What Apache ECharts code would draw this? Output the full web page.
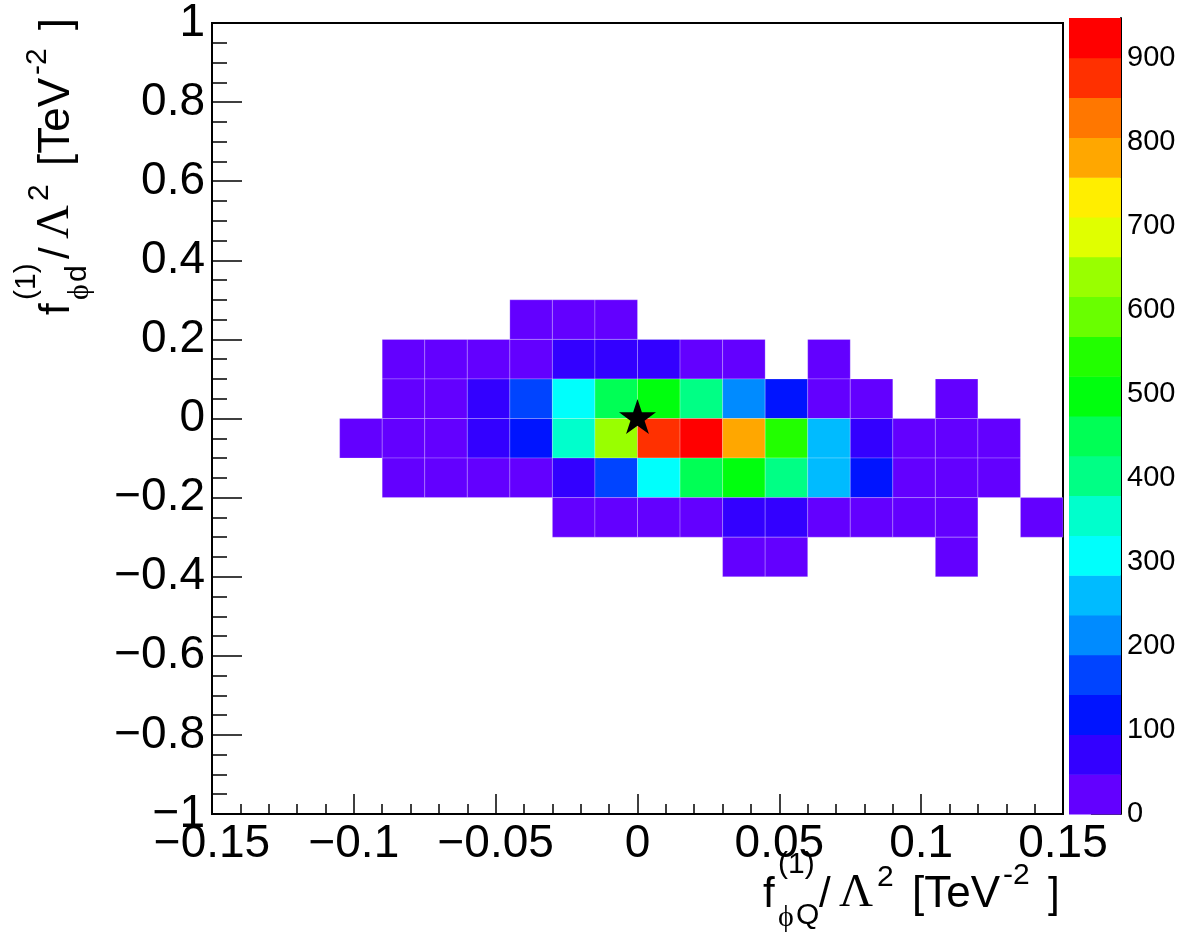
<!DOCTYPE html>
<html>
<head><meta charset="utf-8"></head>
<script type="text/javascript" src="https://cdn.jsdelivr.net/npm/echarts@6/dist/echarts.min.js"></script>
<body style="margin:0;background-color:#fff;">
    <div id="main" style="width:1182px;height:936px;"></div>
</body>

<script type="text/javascript">
// bin centres (x bins 0.015 wide, y bins 0.1 wide)
var xCentres = [-0.0975,-0.0825,-0.0675,-0.0525,-0.0375,-0.0225,-0.0075,0.0075,0.0225,0.0375,0.0525,0.0675,0.0825,0.0975,0.1125,0.1275,0.1425]
var yCentres = [0.25,0.15,0.05,-0.05,-0.15,-0.25,-0.35]
var xBinWidth = 0.015
var yBinWidth = 0.1
// counts, one row per y bin (0 = empty bin)
var counts = [
    [0,0,0,0,22,31,18,0,0,0,0,0,0,0,0,0,0],
    [0,14,26,35,28,72,68,81,24,19,0,12,0,0,0,0,0],
    [0,20,37,66,167,306,452,498,401,214,118,30,17,0,9,0,0],
    [8,25,40,75,121,357,641,878,947,783,546,262,70,21,15,11,0],
    [0,18,29,33,27,78,163,310,447,495,398,256,115,23,19,13,0],
    [0,0,0,0,0,16,27,34,29,64,59,25,21,17,12,0,7],
    [0,0,0,0,0,0,0,0,0,10,14,0,0,0,6,0,0]
]
var bestFit = [[0, 0]]
var zMax = 947
var zTicks = [0,100,200,300,400,500,600,700,800,900]
// ROOT "pretty" palette as picked for 20 contour levels
var palette = ['#6300ff','#3300ff','#0014ff','#0044ff','#008bff','#00bbff','#00fffc','#00ffcc','#00ff85','#00ff55',
               '#00ff0e','#22ff00','#69ff00','#99ff00','#e0ff00','#ffee00','#ffa700','#ff7700','#ff3000','#ff0000']

var cells = []
for (var r = 0; r < yCentres.length; r++) {
    for (var c = 0; c < xCentres.length; c++) {
        if (counts[r][c] > 0) cells.push([xCentres[c], yCentres[r], counts[r][c]])
    }
}
var step = zMax / palette.length
var pieces = []
var levels = []
for (var k = 0; k < palette.length; k++) {
    if (k == palette.length - 1) pieces.push({gte: k * step, lte: zMax, color: palette[k]})
    else pieces.push({gte: k * step, lt: (k + 1) * step, color: palette[k]})
    levels.push([k * step, (k + 1) * step, k])
}

function num(v) {
    return String(Math.round(v * 1000) / 1000).replace('-', '\u2212')
}

function renderCell(params, api) {
    var x = api.value(0), y = api.value(1)
    var p0 = api.coord([x - xBinWidth / 2, y + yBinWidth / 2])
    var p1 = api.coord([x + xBinWidth / 2, y - yBinWidth / 2])
    return {
        type: 'rect',
        shape: {x: p0[0], y: p0[1], width: p1[0] - p0[0], height: p1[1] - p0[1]},
        style: {fill: api.visual('color'), stroke: 'rgba(255,255,255,0.22)', lineWidth: 1}
    }
}

function renderLevel(params, api) {
    var p0 = api.coord([0, api.value(1)])
    var p1 = api.coord([1, api.value(0)])
    return {
        type: 'rect',
        shape: {x: p0[0], y: p0[1], width: p1[0] - p0[0], height: p1[1] - p0[1] + 0.5},
        style: {fill: palette[api.value(2)]}
    }
}

// axis titles: [text, dx, baseline dy, size, font]
var SANS = 'Liberation Sans', SERIF = 'Liberation Serif'
function titleParts(sub) {
    return [
        ['f', 0, 0, 42, SANS],
        ['(1)', 15, -35, 30, SANS],
        ['\u03d5', 15, 18, 30, SERIF],
        [sub, 33, 16, 30, SANS],
        ['/', 56, 0, 42, SANS],
        ['\u039b', 76, 0, 47, SERIF],
        ['2', 114, -22, 30, SANS],
        ['[TeV', 149, 0, 44, SANS],
        ['-2', 240, -24, 30, SANS],
        [']', 285, 0, 42, SANS]
    ]
}
function titleGroup(parts, x, y, rot) {
    return {
        type: 'group', x: x, y: y, rotation: rot,
        children: parts.map(function (p) {
            return {
                type: 'text', x: p[1], y: p[2] - 0.345 * p[3],
                style: {text: p[0], fontSize: p[3], fontFamily: p[4], fill: '#000', verticalAlign: 'middle'}
            }
        })
    }
}

var starPath = 'path://M50,0 L61.23,34.55 L97.55,34.55 L68.17,55.9 L79.39,90.45 L50,69.1 L20.61,90.45 L31.83,55.9 L2.45,34.55 L38.77,34.55 Z'
var black = {color: '#000', width: 2}

var myChart = echarts.init(document.getElementById('main'))
var option = {
    animation: false,
    textStyle: {fontFamily: SANS},
    grid: [
        {left: 212, top: 18, width: 851, height: 796, show: true, borderColor: '#000', borderWidth: 2},
        {left: 1069, top: 18, width: 52, height: 796}
    ],
    xAxis: [
        {
            type: 'value', gridIndex: 0, min: -0.15, max: 0.15, interval: 0.05,
            axisLine: {show: true, onZero: false, lineStyle: black},
            axisTick: {show: true, inside: true, length: 20, lineStyle: {color: '#000', width: 1.5}},
            minorTick: {show: true, splitNumber: 5, length: 10, lineStyle: {color: '#000', width: 1.5}},
            splitLine: {show: false},
            axisLabel: {fontSize: 46, color: '#000', margin: 7, formatter: num}
        },
        {type: 'value', gridIndex: 1, min: 0, max: 1, show: false}
    ],
    yAxis: [
        {
            type: 'value', gridIndex: 0, min: -1, max: 1, interval: 0.2,
            axisLine: {show: true, onZero: false, lineStyle: black},
            axisTick: {show: true, inside: true, length: 30, lineStyle: {color: '#000', width: 1.5}},
            minorTick: {show: true, splitNumber: 4, length: 15, lineStyle: {color: '#000', width: 1.5}},
            splitLine: {show: false},
            axisLabel: {fontSize: 46, color: '#000', margin: 7, formatter: num}
        },
        {
            type: 'value', gridIndex: 1, min: 0, max: zMax, position: 'right',
            axisLine: {show: true, onZero: false, lineStyle: black},
            axisTick: {show: true, inside: true, length: 30, customValues: zTicks, lineStyle: {color: '#000', width: 1.5}},
            axisLabel: {fontSize: 29, color: '#000', margin: 6, customValues: zTicks},
            splitLine: {show: false}
        }
    ],
    visualMap: {type: 'piecewise', show: false, seriesIndex: 0, dimension: 2, pieces: pieces},
    series: [
        {type: 'custom', xAxisIndex: 0, yAxisIndex: 0, renderItem: renderCell, data: cells, silent: true},
        {
            type: 'scatter', xAxisIndex: 0, yAxisIndex: 0, data: bestFit, z: 5, silent: true,
            symbol: starPath, symbolSize: [37, 35], symbolOffset: [0, -2], itemStyle: {color: '#000', opacity: 1}
        },
        {type: 'custom', xAxisIndex: 1, yAxisIndex: 1, renderItem: renderLevel, data: levels, silent: true}
    ],
    graphic: [
        titleGroup(titleParts('Q'), 763, 910, 0),
        titleGroup(titleParts('d'), 72, 315, Math.PI / 2)
    ]
}
myChart.setOption(option)
</script>
</html>
